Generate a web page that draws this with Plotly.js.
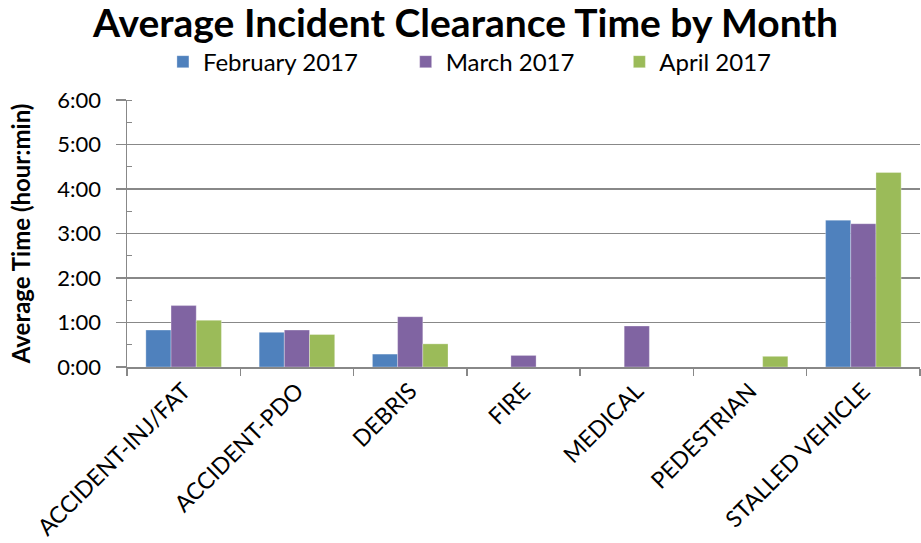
<!DOCTYPE html>
<html>
<head>
<meta charset="utf-8">
<script src="https://cdn.plot.ly/plotly-3.0.1.min.js"></script>
<style>html,body{margin:0;padding:0;background:#fff;}#chart{width:921px;height:543px;}</style>
</head>
<body>
<div id="chart"></div>
<script>
// Categories
var categories = ["ACCIDENT-INJ/FAT", "ACCIDENT-PDO", "DEBRIS", "FIRE", "MEDICAL", "PEDESTRIAN", "STALLED VEHICLE"];
// Average clearance time in hours; null = no bar
var feb2017 = [0.83, 0.78, 0.29, null, null, null, 3.30];
var mar2017 = [1.38, 0.83, 1.13, 0.26, 0.92, null, 3.22];
var apr2017 = [1.05, 0.73, 0.52, null, null, 0.24, 4.37];
var seriesNames = ["February 2017", "March 2017", "April 2017"];
// Y tick labels
var yTickVals = [0, 1, 2, 3, 4, 5, 6];
var yTickText = ["0:00", "1:00", "2:00", "3:00", "4:00", "5:00", "6:00"];

var FONT = "Lato, 'Open Sans', sans-serif";
var colors = ["#4F81BD", "#8064A2", "#9BBB59"];
var data = [feb2017, mar2017, apr2017];
var legendIds = ["legend", "legend2", "legend3"];
var traces = data.map(function (vals, i) {
  return {
    type: "bar",
    name: seriesNames[i],
    x: categories,
    y: vals,
    marker: {color: colors[i], line: {color: "rgba(255,255,255,0.6)", width: 0.5}},
    legend: legendIds[i],
    hoverinfo: "x+y+name"
  };
});

function legendAt(x) {
  return {
    orientation: "h", x: x, xanchor: "left", y: 1.142, yanchor: "middle",
    font: {family: FONT, size: 24, color: "#000"}, bgcolor: "rgba(0,0,0,0)"
  };
}

var layout = {
  width: 921, height: 543,
  margin: {l: 127, r: 1, t: 100, b: 176},
  paper_bgcolor: "#fff", plot_bgcolor: "#fff",
  title: {text: "<b>Average Incident Clearance Time by Month</b>", x: 0.5054, xanchor: "center", y: 0.957, yanchor: "middle",
          font: {family: FONT, size: 39, color: "#000"}},
  barmode: "group", bargap: 0.333, bargroupgap: 0,
  showlegend: true,
  legend: legendAt(0.0453),
  legend2: legendAt(0.3514),
  legend3: legendAt(0.6209),
  xaxis: {
    type: "category", tickangle: -45, tickson: "boundaries",
    ticks: "outside", ticklen: 7, tickwidth: 1.5, tickcolor: "#888",
    showline: true, linecolor: "#888", linewidth: 1.5, showgrid: false,
    tickfont: {family: FONT, size: 23, color: "#000"}
  },
  yaxis: {
    range: [0, 6], tickmode: "array", tickvals: yTickVals, ticktext: yTickText,
    ticks: "outside", ticklen: 10, tickwidth: 1.5, tickcolor: "#888",
    ticklabelstandoff: 10,
    showline: true, linecolor: "#888", linewidth: 1.5,
    showgrid: true, gridcolor: "#888", gridwidth: 1.5, zeroline: false,
    minor: {tickmode: "linear", tick0: 0, dtick: 0.5, ticks: "inside", ticklen: 5, tickcolor: "#888", tickwidth: 1, showgrid: false},
    tickfont: {family: FONT, size: 22, color: "#000"},
    title: {text: "<b>Average Time (hour:min)</b>", font: {family: FONT, size: 24, color: "#000"}, standoff: 20}
  }
};

Plotly.newPlot("chart", traces, layout, {displayModeBar: false, staticPlot: true});
</script>
</body>
</html>
